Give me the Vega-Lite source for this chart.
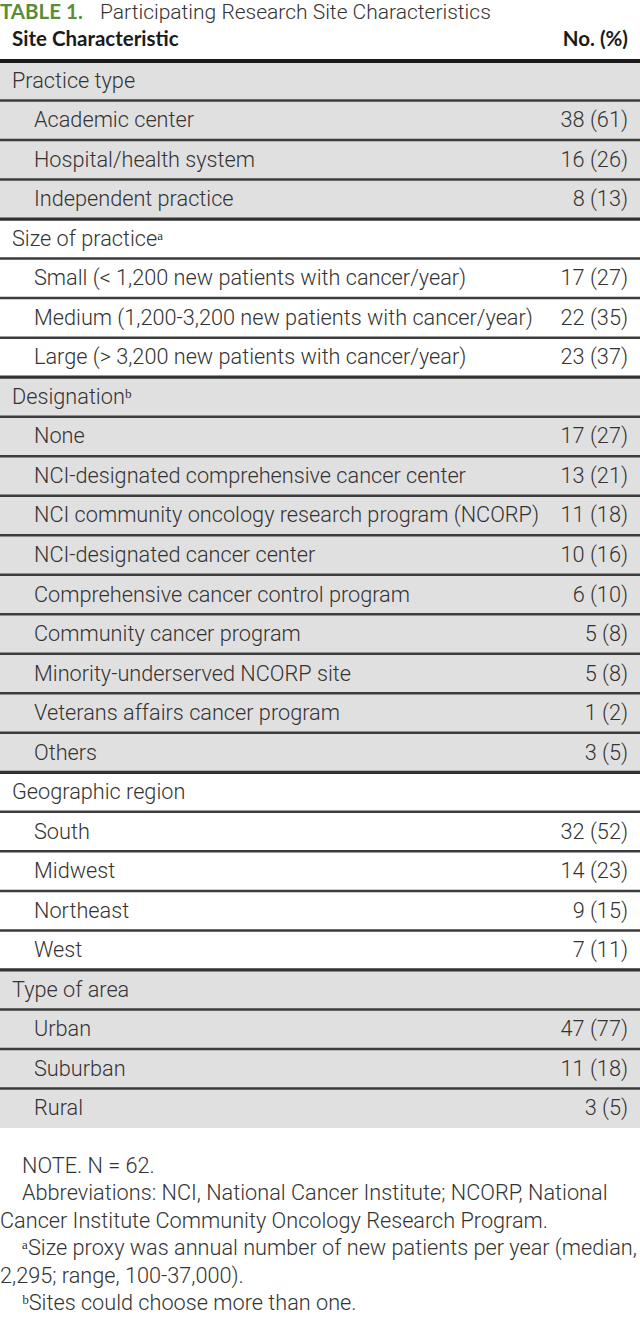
{
  "$schema": "https://vega.github.io/schema/vega-lite/v6.json",
  "width": 640,
  "height": 1323,
  "padding": 0,
  "autosize": {"type": "none"},
  "background": "#ffffff",
  "config": {"view": {"stroke": null}},
  "datasets": {
    "rows": [
      {"r": 0, "label": "Practice type", "value": "", "indent": 0, "section": "Practice type", "top": "header"},
      {"r": 1, "label": "Academic center", "value": "38 (61)", "indent": 1, "section": "Practice type", "top": "row"},
      {"r": 2, "label": "Hospital/health system", "value": "16 (26)", "indent": 1, "section": "Practice type", "top": "row"},
      {"r": 3, "label": "Independent practice", "value": "8 (13)", "indent": 1, "section": "Practice type", "top": "row"},
      {"r": 4, "label": "Size of practiceᵃ", "value": "", "indent": 0, "section": "Size of practice", "top": "section"},
      {"r": 5, "label": "Small (< 1,200 new patients with cancer/year)", "value": "17 (27)", "indent": 1, "section": "Size of practice", "top": "row"},
      {"r": 6, "label": "Medium (1,200-3,200 new patients with cancer/year)", "value": "22 (35)", "indent": 1, "section": "Size of practice", "top": "row"},
      {"r": 7, "label": "Large (> 3,200 new patients with cancer/year)", "value": "23 (37)", "indent": 1, "section": "Size of practice", "top": "row"},
      {"r": 8, "label": "Designationᵇ", "value": "", "indent": 0, "section": "Designation", "top": "section"},
      {"r": 9, "label": "None", "value": "17 (27)", "indent": 1, "section": "Designation", "top": "row"},
      {"r": 10, "label": "NCI-designated comprehensive cancer center", "value": "13 (21)", "indent": 1, "section": "Designation", "top": "row"},
      {"r": 11, "label": "NCI community oncology research program (NCORP)", "value": "11 (18)", "indent": 1, "section": "Designation", "top": "row"},
      {"r": 12, "label": "NCI-designated cancer center", "value": "10 (16)", "indent": 1, "section": "Designation", "top": "row"},
      {"r": 13, "label": "Comprehensive cancer control program", "value": "6 (10)", "indent": 1, "section": "Designation", "top": "row"},
      {"r": 14, "label": "Community cancer program", "value": "5 (8)", "indent": 1, "section": "Designation", "top": "row"},
      {"r": 15, "label": "Minority-underserved NCORP site", "value": "5 (8)", "indent": 1, "section": "Designation", "top": "row"},
      {"r": 16, "label": "Veterans affairs cancer program", "value": "1 (2)", "indent": 1, "section": "Designation", "top": "row"},
      {"r": 17, "label": "Others", "value": "3 (5)", "indent": 1, "section": "Designation", "top": "row"},
      {"r": 18, "label": "Geographic region", "value": "", "indent": 0, "section": "Geographic region", "top": "section"},
      {"r": 19, "label": "South", "value": "32 (52)", "indent": 1, "section": "Geographic region", "top": "row"},
      {"r": 20, "label": "Midwest", "value": "14 (23)", "indent": 1, "section": "Geographic region", "top": "row"},
      {"r": 21, "label": "Northeast", "value": "9 (15)", "indent": 1, "section": "Geographic region", "top": "row"},
      {"r": 22, "label": "West", "value": "7 (11)", "indent": 1, "section": "Geographic region", "top": "row"},
      {"r": 23, "label": "Type of area", "value": "", "indent": 0, "section": "Type of area", "top": "section"},
      {"r": 24, "label": "Urban", "value": "47 (77)", "indent": 1, "section": "Type of area", "top": "row"},
      {"r": 25, "label": "Suburban", "value": "11 (18)", "indent": 1, "section": "Type of area", "top": "row"},
      {"r": 26, "label": "Rural", "value": "3 (5)", "indent": 1, "section": "Type of area", "top": "row"}
    ],
    "heading": [
      {"line": 0, "part": "tag", "col": 0, "text": "TABLE 1."},
      {"line": 0, "part": "caption", "col": 1, "text": "Participating Research Site Characteristics"},
      {"line": 1, "part": "headL", "col": 0, "text": "Site Characteristic"},
      {"line": 1, "part": "headR", "col": 1, "text": "No. (%)"}
    ],
    "notes": [
      {"line": 0, "indent": 1, "text": "NOTE. N = 62."},
      {"line": 1, "indent": 1, "text": "Abbreviations: NCI, National Cancer Institute; NCORP, National"},
      {"line": 2, "indent": 0, "text": "Cancer Institute Community Oncology Research Program."},
      {"line": 3, "indent": 1, "text": "ᵃSize proxy was annual number of new patients per year (median,"},
      {"line": 4, "indent": 0, "text": "2,295; range, 100-37,000)."},
      {"line": 5, "indent": 1, "text": "ᵇSites could choose more than one."}
    ]
  },
  "resolve": {"scale": {"x": "independent", "y": "independent", "fill": "independent", "stroke": "independent", "strokeWidth": "independent"}},
  "layer": [
    {
      "data": {"name": "rows"},
      "mark": {"type": "rect"},
      "encoding": {
        "y": {"field": "r", "type": "ordinal", "axis": null, "scale": {"domain": [0,1,2,3,4,5,6,7,8,9,10,11,12,13,14,15,16,17,18,19,20,21,22,23,24,25,26], "range": [61, 1128], "paddingInner": 0, "paddingOuter": 0}},
        "fill": {"field": "section", "type": "nominal", "legend": null, "scale": {"domain": ["Practice type", "Size of practice", "Designation", "Geographic region", "Type of area"], "range": ["#e1e0e1", "#ffffff", "#e1e0e1", "#ffffff", "#e1e0e1"]}}
      }
    },
    {
      "data": {"name": "rows"},
      "mark": {"type": "rule"},
      "encoding": {
        "y": {"field": "r", "type": "ordinal", "bandPosition": 0, "axis": null, "scale": {"domain": [0,1,2,3,4,5,6,7,8,9,10,11,12,13,14,15,16,17,18,19,20,21,22,23,24,25,26], "range": [61, 1128], "paddingInner": 0, "paddingOuter": 0}},
        "stroke": {"field": "top", "type": "nominal", "legend": null, "scale": {"domain": ["header", "section", "row"], "range": ["#1a1a1a", "#333333", "#3c3c3c"]}},
        "strokeWidth": {"field": "top", "type": "ordinal", "legend": null, "scale": {"domain": ["header", "section", "row"], "range": [4, 2.5, 2]}}
      }
    },
    {
      "data": {"name": "rows"},
      "mark": {"type": "text", "align": "left", "baseline": "middle", "font": "Roboto", "fontWeight": 300, "fontSize": 21.7, "color": "#333333"},
      "encoding": {
        "y": {"field": "r", "type": "ordinal", "axis": null, "scale": {"domain": [0,1,2,3,4,5,6,7,8,9,10,11,12,13,14,15,16,17,18,19,20,21,22,23,24,25,26], "range": [61, 1128], "paddingInner": 0, "paddingOuter": 0}},
        "x": {"field": "indent", "type": "quantitative", "axis": null, "scale": {"domain": [0, 1], "range": [12, 34]}},
        "text": {"field": "label"}
      }
    },
    {
      "data": {"name": "rows"},
      "mark": {"type": "text", "align": "right", "baseline": "middle", "font": "Roboto", "fontWeight": 300, "fontSize": 21.7, "color": "#333333", "x": {"expr": "width - 12"}},
      "encoding": {
        "y": {"field": "r", "type": "ordinal", "axis": null, "scale": {"domain": [0,1,2,3,4,5,6,7,8,9,10,11,12,13,14,15,16,17,18,19,20,21,22,23,24,25,26], "range": [61, 1128], "paddingInner": 0, "paddingOuter": 0}},
        "text": {"field": "value"}
      }
    },
    {
      "data": {"name": "heading"},
      "transform": [{"filter": "datum.part === 'tag'"}],
      "mark": {"type": "text", "align": "left", "baseline": "middle", "fontSize": 20.5, "font": "Lato", "fontWeight": "bold", "color": "#5b8c3c"},
      "encoding": {
        "y": {"field": "line", "type": "quantitative", "axis": null, "scale": {"domain": [0, 1], "range": [13, 40]}},
        "x": {"field": "col", "type": "quantitative", "axis": null, "scale": {"domain": [0, 1], "range": [0, 100]}},
        "text": {"field": "text"}
      }
    },
    {
      "data": {"name": "heading"},
      "transform": [{"filter": "datum.part === 'caption'"}],
      "mark": {"type": "text", "align": "left", "baseline": "middle", "fontSize": 21, "font": "Roboto", "fontWeight": 300, "color": "#333333"},
      "encoding": {
        "y": {"field": "line", "type": "quantitative", "axis": null, "scale": {"domain": [0, 1], "range": [13, 40]}},
        "x": {"field": "col", "type": "quantitative", "axis": null, "scale": {"domain": [0, 1], "range": [0, 100]}},
        "text": {"field": "text"}
      }
    },
    {
      "data": {"name": "heading"},
      "transform": [{"filter": "datum.part === 'headL'"}],
      "mark": {"type": "text", "align": "left", "baseline": "middle", "fontSize": 20.5, "font": "Lato", "fontWeight": "bold", "color": "#1a1a1a"},
      "encoding": {
        "y": {"field": "line", "type": "quantitative", "axis": null, "scale": {"domain": [0, 1], "range": [13, 40]}},
        "x": {"field": "col", "type": "quantitative", "axis": null, "scale": {"domain": [0, 1], "range": [12, 628]}},
        "text": {"field": "text"}
      }
    },
    {
      "data": {"name": "heading"},
      "transform": [{"filter": "datum.part === 'headR'"}],
      "mark": {"type": "text", "align": "right", "baseline": "middle", "fontSize": 20.5, "font": "Lato", "fontWeight": "bold", "color": "#1a1a1a"},
      "encoding": {
        "y": {"field": "line", "type": "quantitative", "axis": null, "scale": {"domain": [0, 1], "range": [13, 40]}},
        "x": {"field": "col", "type": "quantitative", "axis": null, "scale": {"domain": [0, 1], "range": [12, 628]}},
        "text": {"field": "text"}
      }
    },
    {
      "data": {"name": "notes"},
      "mark": {"type": "text", "align": "left", "baseline": "middle", "font": "Roboto", "fontWeight": 300, "fontSize": 21.7, "color": "#333333"},
      "encoding": {
        "y": {"field": "line", "type": "quantitative", "axis": null, "scale": {"domain": [0, 5], "range": [1166, 1303]}},
        "x": {"field": "indent", "type": "quantitative", "axis": null, "scale": {"domain": [0, 1], "range": [0, 22]}},
        "text": {"field": "text"}
      }
    }
  ]
}
